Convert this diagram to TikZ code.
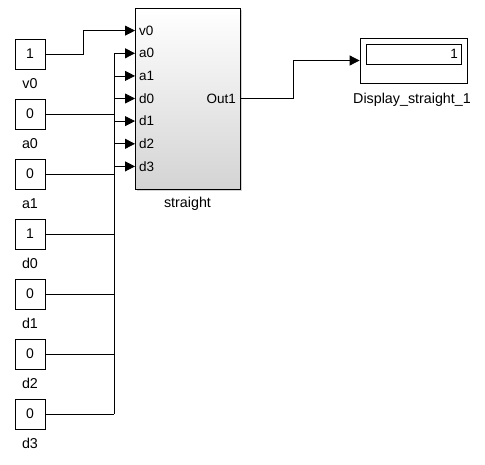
\documentclass[tikz,border=0pt]{standalone}
\usepackage{fontspec}
\setmainfont{Liberation Sans}
\usetikzlibrary{arrows.meta,positioning,shadows}

\tikzset{
  fio/.style={line width=0.8pt},
  seta/.style={fio, -{Triangle[length=10pt,width=10pt]}},
  const/.style={draw, line width=0.8pt, fill=white, minimum width=30pt, minimum height=30pt,
    inner sep=0pt, font=\fontsize{14}{14}\selectfont,
    drop shadow={shadow xshift=1.2pt, shadow yshift=-1.2pt, opacity=0.35}},
  rotulo/.style={anchor=base, inner sep=0pt, font=\fontsize{14.3}{14.3}\selectfont},
  porta/.style={anchor=west, inner sep=0pt, font=\fontsize{13.5}{13.5}\selectfont}
}

\begin{document}
\begin{tikzpicture}[x=1pt,y=-1pt]
        \useasboundingbox (0,0) rectangle (485,464);
        % Bloco principal
        \node[draw, line width=0.8pt, minimum width=105pt, minimum height=181pt, inner sep=0pt,
          top color=white, bottom color=black!17,
          drop shadow={shadow xshift=1.5pt, shadow yshift=-1.5pt, opacity=0.35}] (straight) at (187.5,98.5) {};
        \node[rotulo] (lstraight) at (187.5,207) {straight};
        % Portas de entrada
        \coordinate (pv0) at (135,30.6);
        \coordinate (pa0) at (135,53.3);
        \coordinate (pa1) at (135,75.9);
        \coordinate (pd0) at (135,98.5);
        \coordinate (pd1) at (135,121.1);
        \coordinate (pd2) at (135,143.8);
        \coordinate (pd3) at (135,166.4);
        \node[porta] (tv0) at ([xshift=4pt]pv0) {v0};
        \node[porta] (ta0) at ([xshift=4pt]pa0) {a0};
        \node[porta] (ta1) at ([xshift=4pt]pa1) {a1};
        \node[porta] (td0) at ([xshift=4pt]pd0) {d0};
        \node[porta] (td1) at ([xshift=4pt]pd1) {d1};
        \node[porta] (td2) at ([xshift=4pt]pd2) {d2};
        \node[porta] (td3) at ([xshift=4pt]pd3) {d3};
        % Porta de saida
        \coordinate (pout) at (240,98.5);
        \node[porta, anchor=east] (tout) at ([xshift=-4pt]pout) {Out1};
        % Constantes
        \node[const] (cv0) at (30,54) {1};
        \node[const] (ca0) at (30,114) {0};
        \node[const] (ca1) at (30,174) {0};
        \node[const] (cd0) at (30,234) {1};
        \node[const] (cd1) at (30,294) {0};
        \node[const] (cd2) at (30,354) {0};
        \node[const] (cd3) at (30,414) {0};
        \node[rotulo] (lv0) at (30,88) {v0};
        \node[rotulo] (la0) at (30,148) {a0};
        \node[rotulo] (la1) at (30,208) {a1};
        \node[rotulo] (ld0) at (30,268) {d0};
        \node[rotulo] (ld1) at (30,328) {d1};
        \node[rotulo] (ld2) at (30,388) {d2};
        \node[rotulo] (ld3) at (30,448) {d3};
        % Display
        \node[draw, line width=0.8pt, fill=white, minimum width=107pt, minimum height=45pt, inner sep=0pt,
          drop shadow={shadow xshift=1.2pt, shadow yshift=-1.2pt, opacity=0.35}] (disp) at (413.5,60.5) {};
        \node[draw, line width=0.8pt, text width=89pt, align=right, minimum height=20pt, inner sep=3pt,
          font=\fontsize{13.5}{13.5}\selectfont] (dispval) at (413.5,54) {1};
        \node[rotulo] (ldisp) at (412,103) {Display\_straight\_1};
        % Ligacao v0
        \draw[seta] (cv0.east) -- ++(38,0) |- (pv0);
        % Barramento
        \coordinate (bus) at (114,0);
        \draw[fio] (bus |- pa0) -- (bus |- cd3.east);
        \draw[fio] (ca0.east) -- (ca0.east -| bus);
        \draw[fio] (ca1.east) -- (ca1.east -| bus);
        \draw[fio] (cd0.east) -- (cd0.east -| bus);
        \draw[fio] (cd1.east) -- (cd1.east -| bus);
        \draw[fio] (cd2.east) -- (cd2.east -| bus);
        \draw[fio] (cd3.east) -- (cd3.east -| bus);
        \draw[seta] (bus |- pa0) -- (pa0);
        \draw[seta] (bus |- pa1) -- (pa1);
        \draw[seta] (bus |- pd0) -- (pd0);
        \draw[seta] (bus |- pd1) -- (pd1);
        \draw[seta] (bus |- pd2) -- (pd2);
        \draw[seta] (bus |- pd3) -- (pd3);
        % Saida para o display
        \draw[seta] (pout) -- ++(53,0) |- (disp.west);
    \end{tikzpicture}
\end{document}
